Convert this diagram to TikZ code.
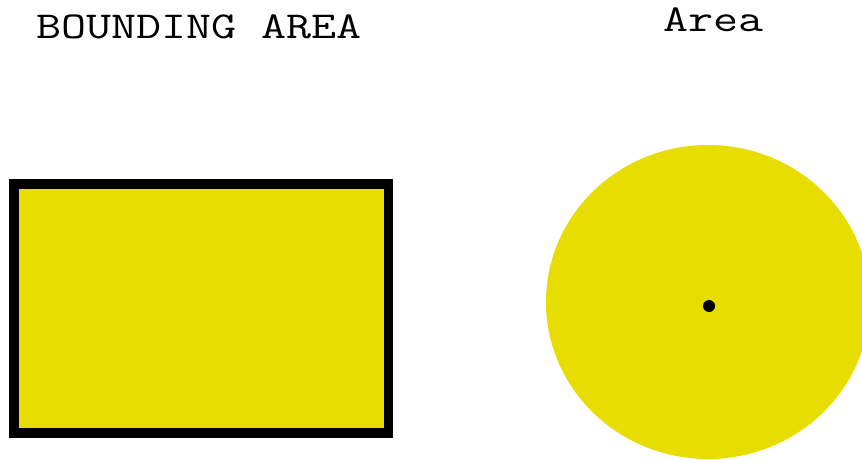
\documentclass[tikz,border=0pt]{standalone}
\usepackage{fontspec}
\newfontfamily\monofont{Latin Modern Mono}
\definecolor{areayellow}{RGB}{232,221,0}
\newcommand{\widetext}[1]{\scalebox{1.28}[1]{#1}}
\begin{document}
\begin{tikzpicture}[x=1pt,y=-1pt,
  label text/.style={font=\monofont\fontsize{38}{38}\selectfont, inner sep=0pt, anchor=base west},
  box/.style={draw=black, fill=areayellow, line width=9.5pt},
  blob/.style={fill=areayellow, draw=none},
  centredot/.style={circle, fill=black, inner sep=0pt, minimum size=12pt}]
\useasboundingbox (0,0) rectangle (862,460);
\node[label text] (t1) at (36,39) {\widetext{BOUNDING AREA}};
\node[label text] (t2) at (663,32) {\widetext{Area}};
\path[box] (14,184) rectangle (388.5,433);
\begin{scope}
\clip (0,0) rectangle (862,460);
\path[blob] (708,302) ellipse [x radius=162, y radius=157];
\end{scope}
\node[centredot] (c) at (709,306) {};
\end{tikzpicture}
\end{document}
